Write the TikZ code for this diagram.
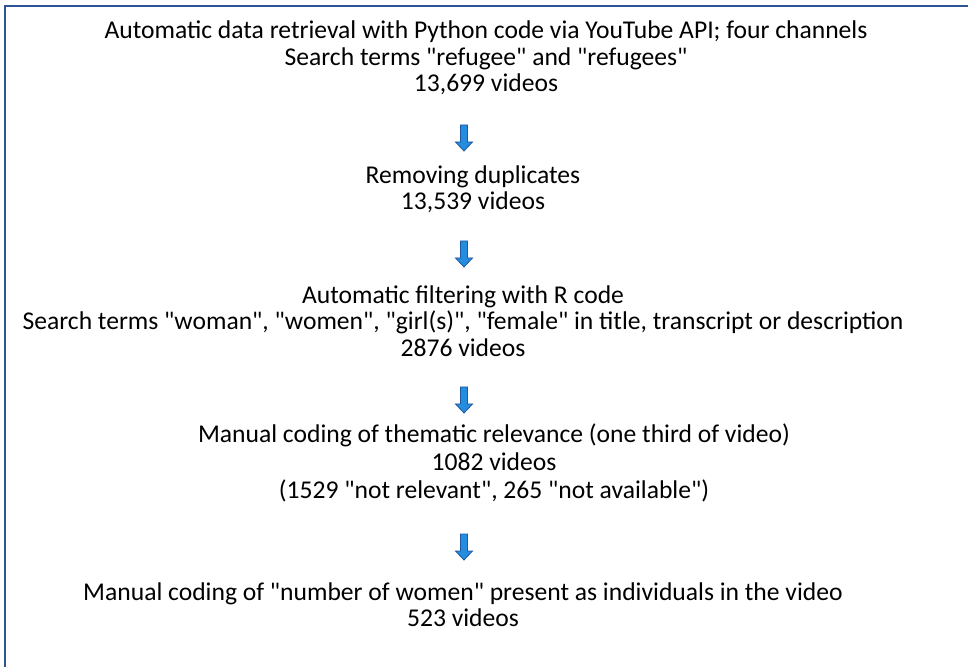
\documentclass[tikz,border=0pt]{standalone}
\usepackage{fontspec}
\setmainfont{Carlito}

\definecolor{framecol}{RGB}{46,84,149}
\definecolor{arrowfill}{RGB}{38,140,222}
\definecolor{arrowline}{RGB}{30,88,160}

\newcommand{\q}[1]{\textquotedbl#1\textquotedbl}

\tikzset{
  steptext/.style={align=center, inner sep=0pt, font=\fontsize{12.8}{13.2}\selectfont},
  blockarrow/.style={draw=arrowline, fill=arrowfill, line width=0.4pt, line join=miter}
}

\begin{document}
\begin{tikzpicture}[x=0.5pt,y=-0.5pt]
  \useasboundingbox (0,0) rectangle (968,667);
  \clip (0,0) rectangle (968,667);
  \draw[framecol, line width=1pt] (5,6) rectangle (990,690);

  \node[steptext] (retrieval) at (486,58) {Automatic data retrieval with Python code via YouTube API; four channels\\
    Search terms \q{refugee} and \q{refugees}\\ 13,699 videos};
  \node[steptext] (duplicates) at (473,189) {Removing duplicates\\ 13,539 videos};
  \node[steptext] (filtering) at (463,321) {Automatic filtering with R code\\
    Search terms \q{woman}, \q{women}, \q{girl(s)}, \q{female} in title, transcript or description\\ 2876 videos};
  \node[steptext, font=\fontsize{12.8}{13.8}\selectfont] (relevance) at (494,463) {Manual coding of thematic relevance (one third of video)\\
    1082 videos\\ (1529 \q{not relevant}, 265 \q{not available})};
  \node[steptext] (women) at (463,605) {Manual coding of \q{number of women} present as individuals in the video\\ 523 videos};

  % block arrows between the steps
  \foreach \y/\n in {138/arr1,254/arr2,400/arr3,547/arr4}{
    \coordinate (\n) at (464,\y);
    \draw[blockarrow] (\n) ++(-3.5,-13) -- ++(7,0) -- ++(0,17) -- ++(5,0)
      -- ++(-8.5,9) -- ++(-8.5,-9) -- ++(5,0) -- cycle;
  }
\end{tikzpicture}
\end{document}
